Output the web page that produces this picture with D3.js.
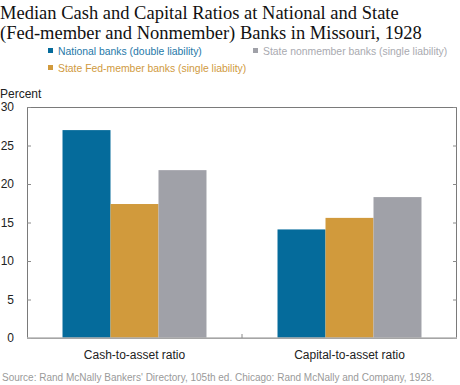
<!DOCTYPE html>
<html>
<head>
<meta charset="utf-8">
<title>Median Cash and Capital Ratios</title>
<script src="https://d3js.org/d3.v7.min.js"></script>
<style>
  body { margin: 0; background: #fff; }
  text { font-family: "Liberation Sans", Arial, sans-serif; }
</style>
</head>
<body>
<script>
const categories = ["Cash-to-asset ratio", "Capital-to-asset ratio"];
const seriesNames = ["National banks (double liability)", "State Fed-member banks (single liability)", "State nonmember banks (single liability)"];
const seriesColors = ["#056b9b", "#d19a3c", "#a0a1a8"];
const legendText = ["#1e78a8", "#d09a3e", "#a9aab0"];
const national = [27.0, 14.1];
const fedMember = [17.4, 15.6];
const nonmember = [21.8, 18.3];
const yTicks = [0, 5, 10, 15, 20, 25, 30];

const series = [national, fedMember, nonmember];

const W = 460, H = 385;
const mLeft = 27, mRight = 457, mTop = 107, mBottom = 338;

const svg = d3.select("body").append("svg").attr("width", W).attr("height", H);

// title
const title = svg.append("text")
    .attr("x", 0).attr("y", 19)
    .style("font-family", "'Liberation Serif', 'DejaVu Serif', serif")
    .style("font-size", "18.5px").attr("fill", "#111");
title.append("tspan").attr("x", 0).text("Median Cash and Capital Ratios at National and State");
title.append("tspan").attr("x", 0).attr("dy", 20).text("(Fed-member and Nonmember) Banks in Missouri, 1928");

// legend
const legPos = [[48, 51], [48, 68], [253, 51]];
seriesNames.forEach((n, i) => {
  const [lx, ly] = legPos[i];
  svg.append("rect").attr("x", lx).attr("y", ly - 3).attr("width", 5).attr("height", 5).attr("fill", seriesColors[i]);
  svg.append("text").attr("x", lx + 10).attr("y", ly + 3.5)
    .style("font-size", "10.4px").attr("fill", legendText[i]).text(n);
});

const x = d3.scaleBand().domain(categories).range([mLeft, mRight]);
const xs = d3.scaleBand().domain(d3.range(series.length)).range([0, x.bandwidth()]).paddingOuter(0.74);
const y = d3.scaleLinear().domain([0, 30]).range([mBottom, mTop]);

// frame
svg.append("rect").attr("x", mLeft + 0.5).attr("y", mTop + 0.5)
  .attr("width", mRight - mLeft - 1).attr("height", mBottom - mTop)
  .attr("fill", "none").attr("stroke", "#7a7a7a").attr("stroke-width", 1);

// bars
categories.forEach((c, ci) => {
  series.forEach((s, si) => {
    svg.append("rect")
      .attr("x", x(c) + xs(si))
      .attr("y", y(s[ci]))
      .attr("width", xs.bandwidth())
      .attr("height", y(0) - y(s[ci]))
      .attr("fill", seriesColors[si]);
  });
});

// ticks
const gl = svg.append("g").attr("transform", `translate(${mLeft},0)`)
  .call(d3.axisRight(y).tickValues(yTicks).tickSize(4).tickFormat(""));
const gr = svg.append("g").attr("transform", `translate(${mRight},0)`)
  .call(d3.axisLeft(y).tickValues(yTicks).tickSize(4).tickFormat(""));
[gl, gr].forEach(g => {
  g.select(".domain").remove();
  g.selectAll("line").attr("stroke", "#8a8a8a");
});

// y labels
svg.selectAll(".ylab").data(yTicks).enter().append("text")
  .attr("x", 14).attr("y", d => y(d) + 4)
  .attr("text-anchor", "end")
  .style("font-size", "12px").attr("fill", "#222").text(d => d);

svg.append("text").attr("x", 0).attr("y", 98).style("font-size", "12px").attr("fill", "#222").text("Percent");

// bottom axis
svg.append("line").attr("x1", mLeft).attr("x2", mRight).attr("y1", mBottom).attr("y2", mBottom)
  .attr("stroke", "#b5b5b5").attr("stroke-width", 1.5);
svg.append("line").attr("x1", x(categories[1])).attr("x2", x(categories[1]))
  .attr("y1", mBottom).attr("y2", mBottom - 4).attr("stroke", "#8a8a8a");

svg.selectAll(".xlab").data(categories).enter().append("text")
  .attr("x", d => x(d) + x.bandwidth() / 2).attr("y", 359)
  .attr("text-anchor", "middle")
  .style("font-size", "12px").attr("fill", "#222").text(d => d);

// source
svg.append("text").attr("x", 2).attr("y", 381)
  .style("font-size", "10px").attr("fill", "#9a9a9a")
  .text("Source: Rand McNally Bankers' Directory, 105th ed. Chicago: Rand McNally and Company, 1928.");
</script>
</body>
</html>
